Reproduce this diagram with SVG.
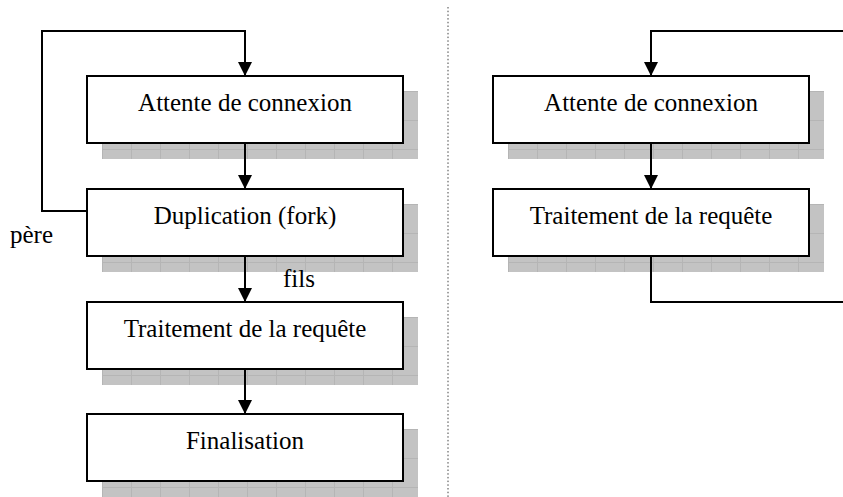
<svg xmlns="http://www.w3.org/2000/svg" width="843" height="497" viewBox="0 0 843 497">
  <defs>
    <style>
      .box { fill: #ffffff; stroke: #000000; stroke-width: 2; }
      .shadow { fill: url(#shadowGrid); }
      .label { font-family: "Liberation Serif", "Times New Roman", serif; font-size: 25px; fill: #000000; }
      .wire { fill: none; stroke: #000000; stroke-width: 2; }
      .sep { fill: none; stroke: #444444; stroke-width: 1; stroke-dasharray: 1.5 2.2; }
    </style>
    <!-- grey shadow with a faint 29px grid, anchored at the shadow's corner -->
    <pattern id="shadowGrid" patternUnits="userSpaceOnUse" x="15" y="15" width="29" height="29">
      <rect width="29" height="29" fill="#c3c3c3"/>
      <path d="M0 0.5 H29 M0.5 0 V29" stroke="#b5b5b5" stroke-width="1"/>
    </pattern>
    <marker id="head" markerUnits="userSpaceOnUse" markerWidth="14" markerHeight="14" refX="14" refY="7" orient="auto">
      <path d="M0 0 L14 7 L0 14 Z" fill="#000000"/>
    </marker>
  </defs>

  <!-- dotted separator between the two schemes -->
  <line class="sep" x1="448" y1="7" x2="448" y2="497"/>

  <!-- left scheme: forking server -->
  <g id="attente-gauche" transform="translate(87,76)">
    <rect class="shadow" x="15" y="15" width="316" height="68"/>
    <rect class="box" x="0" y="0" width="316" height="67"/>
    <text class="label" x="158" y="35" text-anchor="middle">Attente de connexion</text>
  </g>
  <g id="duplication" transform="translate(87,189)">
    <rect class="shadow" x="15" y="15" width="316" height="68"/>
    <rect class="box" x="0" y="0" width="316" height="67"/>
    <text class="label" x="158" y="35" text-anchor="middle">Duplication (fork)</text>
  </g>
  <g id="traitement-gauche" transform="translate(87,302)">
    <rect class="shadow" x="15" y="15" width="316" height="68"/>
    <rect class="box" x="0" y="0" width="316" height="67"/>
    <text class="label" x="158" y="35" text-anchor="middle">Traitement de la requête</text>
  </g>
  <g id="finalisation" transform="translate(87,414)">
    <rect class="shadow" x="15" y="15" width="316" height="68"/>
    <rect class="box" x="0" y="0" width="316" height="67"/>
    <text class="label" x="158" y="35" text-anchor="middle">Finalisation</text>
  </g>

  <!-- right scheme: iterative server -->
  <g id="attente-droite" transform="translate(493,76)">
    <rect class="shadow" x="15" y="15" width="316" height="68"/>
    <rect class="box" x="0" y="0" width="316" height="67"/>
    <text class="label" x="158" y="35" text-anchor="middle">Attente de connexion</text>
  </g>
  <g id="traitement-droite" transform="translate(493,189)">
    <rect class="shadow" x="15" y="15" width="316" height="68"/>
    <rect class="box" x="0" y="0" width="316" height="67"/>
    <text class="label" x="158" y="35" text-anchor="middle">Traitement de la requête</text>
  </g>

  <g id="connectors">
    <!-- left -->
    <path class="wire" d="M87 211 H42 V31 H245 V76" marker-end="url(#head)"/>
    <path class="wire" d="M245 143 V189" marker-end="url(#head)"/>
    <path class="wire" d="M245 256 V302" marker-end="url(#head)"/>
    <path class="wire" d="M245 369 V414" marker-end="url(#head)"/>
    <text class="label" x="10" y="243">père</text>
    <text class="label" x="283" y="287">fils</text>
    <!-- right -->
    <path class="wire" d="M843 31 H651 V76" marker-end="url(#head)"/>
    <path class="wire" d="M651 143 V189" marker-end="url(#head)"/>
    <path class="wire" d="M651 256 V302 H843"/>
  </g>
</svg>
